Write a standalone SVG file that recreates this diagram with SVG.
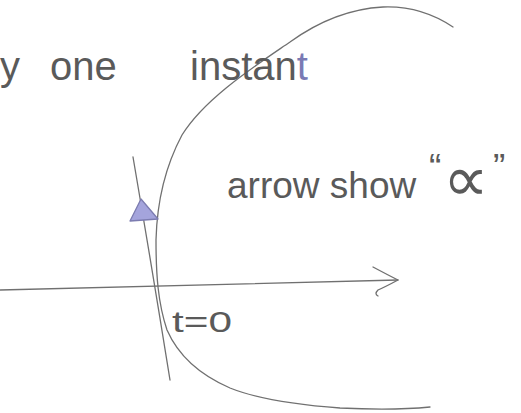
<svg xmlns="http://www.w3.org/2000/svg" width="521" height="413" viewBox="0 0 521 413">
<style>
.ink{fill:none;stroke:#707070;stroke-width:1.3;stroke-linecap:round;stroke-linejoin:round}
.hand{font-family:"Liberation Sans","DejaVu Sans",sans-serif;fill:#5a5a5a}
</style>
<rect width="521" height="413" fill="#ffffff"/>
<g id="connectors">
<path id="orbit" class="ink" d="M453,27 C432,13 408,6 383,7 C345,9 315,24 290,42 C255,66 205,98 182,135 C166,165 157,200 156,240 C156,275 158,303 167,330 C178,355 200,375 230,388 C260,400 300,405 340,408 C380,410 410,409 430,407"/>
<path id="axis" class="ink" d="M0,290 L398,280"/>
<path id="axis-head" class="ink" d="M373,267 Q388,275 398,280 Q385,287 378,290 Q374,294 378,296"/>
<path id="trajectory" class="ink" stroke-width="1.6" d="M133,157 Q152,268 170,380"/>
<polygon id="trajectory-head" points="141,199 130,221 158,219" fill="#a4a4dc" stroke="#7c7cb0" stroke-width="1.3" stroke-linejoin="round"/>
</g>
<g id="label-top">
<text class="hand" y="80" font-size="40"><tspan x="0">y</tspan><tspan x="50">one</tspan><tspan x="190">instan</tspan><tspan fill="#7a7ab4">t</tspan></text>
</g>
<g id="label-arrow">
<text class="hand" x="227" y="198" font-size="37">arrow show<tspan x="429" y="180">“</tspan><tspan x="443" y="201" font-size="64">∝</tspan><tspan x="493" y="180">”</tspan></text>
</g>
<g id="label-t0">
<text class="hand" x="172" y="332" font-size="30" textLength="60" lengthAdjust="spacingAndGlyphs">t=0</text>
</g>
</svg>
